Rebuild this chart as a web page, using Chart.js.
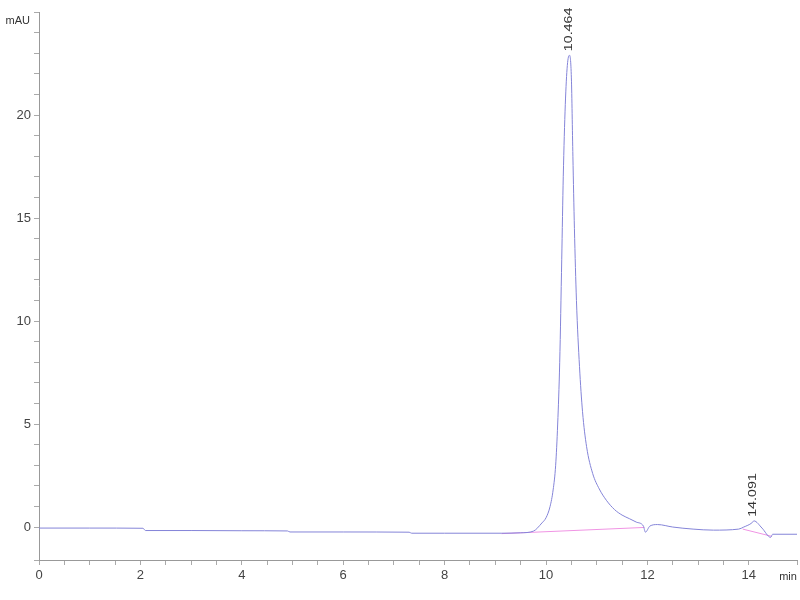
<!DOCTYPE html>
<html>
<head>
<meta charset="utf-8">
<title>Cromatograma</title>
<script src="https://cdn.jsdelivr.net/npm/chart.js@4.4.1/dist/chart.umd.min.js"></script>
<style>
    body { margin: 0; background: #fff; }
    #grafico_box { width: 800px; height: 600px; }
</style>
</head>
<body>
<div id="grafico_box"><canvas id="grafico_cromatograma"></canvas></div>
<script>
// tempo (min) e sinal (mAU)
var tempo = [0, 1, 2.05, 2.1, 3, 4, 4.9, 4.95, 6, 7.3, 7.35, 8, 9.12, 9.5, 9.75,
    9.92, 10.0, 10.08, 10.14, 10.19, 10.23, 10.27, 10.31, 10.34, 10.38, 10.42, 10.464, 10.5, 10.53,
    10.56, 10.6, 10.66, 10.72, 10.8, 10.92, 11.05, 11.19, 11.35, 11.5, 11.65, 11.78,
    11.92, 11.96, 12.05, 12.2, 12.5, 12.9, 13.3, 13.8, 13.9, 14.06, 14.1, 14.26,
    14.43, 14.47, 14.95];
var sinal = [-0.05, -0.05, -0.06, -0.17, -0.17, -0.18, -0.19, -0.24, -0.24, -0.25, -0.3, -0.3, -0.3, -0.28, -0.2,
    0.2, 0.45, 1.0, 1.8, 3.0, 5.0, 8, 13, 17, 20.5, 22.4, 22.9, 21.8, 18,
    14.5, 11, 7.8, 5.6, 3.9, 2.6, 1.85, 1.3, 0.85, 0.58, 0.4, 0.24,
    0.05, -0.25, 0.05, 0.12, 0, -0.1, -0.15, -0.1, 0, 0.2, 0.3, -0.05,
    -0.5, -0.35, -0.35];

// linhas de base dos picos
var base1_tempo = [9.12, 11.94];
var base1_sinal = [-0.32, -0.02];
var base2_tempo = [13.88, 14.45];
var base2_sinal = [-0.1, -0.45];

// picos marcados
var picos_tempo = [10.464, 14.091];
var picos_sinal = [22.9, 0.3];
var picos_label = ['10.464', '14.091'];

var x_min = 0, x_max = 14.95;
var y_min = -1.6, y_max = 25;

function montaPontos(xs, ys) {
    var pontos = [];
    for (var i = 0; i < xs.length; i++) {
        pontos.push({x: xs[i], y: ys[i]});
    }
    return pontos;
}

// escreve os tempos dos picos e as unidades dos eixos
var pluginTextos = {
    id: 'textos',
    afterDatasetsDraw: function (chart) {
        var ctx = chart.ctx;
        var sx = chart.scales.x;
        var sy = chart.scales.y;
        var area = chart.chartArea;
        ctx.save();
        ctx.fillStyle = '#333';
        ctx.font = '11px "Liberation Sans", Arial, sans-serif';
        for (var i = 0; i < picos_tempo.length; i++) {
            var px = sx.getPixelForValue(picos_tempo[i]);
            var py = sy.getPixelForValue(picos_sinal[i]);
            ctx.save();
            ctx.translate(px, py - 4);
            ctx.rotate(-Math.PI / 2);
            ctx.scale(1.3, 0.95); // texto esticado como no original
            ctx.textAlign = 'left';
            ctx.textBaseline = 'middle';
            ctx.fillText(picos_label[i], 0, 0);
            ctx.restore();
        }
        ctx.font = '11px "Liberation Sans Narrow", "Liberation Sans", sans-serif';
        ctx.textBaseline = 'middle';
        ctx.textAlign = 'right';
        ctx.fillText('mAU', area.left - 9, area.top + 9);
        ctx.textAlign = 'center';
        ctx.fillText('min', area.right - 9, area.bottom + 17);
        ctx.restore();
    }
};

var ctx = document.getElementById('grafico_cromatograma');
var myChart = new Chart(ctx, {
    type: 'scatter',
    data: {
        datasets: [{
                data: montaPontos(tempo, sinal),
                showLine: true,
                borderColor: '#8484d8',
                borderWidth: 1,
                pointRadius: 0,
                cubicInterpolationMode: 'monotone'
            }, {
                data: montaPontos(base1_tempo, base1_sinal),
                showLine: true,
                borderColor: '#f094e4',
                borderWidth: 1,
                pointRadius: 0
            }, {
                data: montaPontos(base2_tempo, base2_sinal),
                showLine: true,
                borderColor: '#f094e4',
                borderWidth: 1,
                pointRadius: 0
            }]
    },
    options: {
        responsive: true,
        maintainAspectRatio: false,
        animation: false,
        layout: {padding: {top: 12, right: 2, left: 0, bottom: 0}},
        plugins: {
            legend: {display: false},
            tooltip: {enabled: false}
        },
        scales: {
            x: {
                type: 'linear',
                min: x_min,
                max: x_max,
                afterFit: function (scale) { scale.height = 40; },
                border: {display: true, color: '#999', width: 1},
                grid: {drawOnChartArea: false, drawTicks: true, tickLength: 5, color: '#aaa'},
                ticks: {
                    stepSize: 0.5,
                    autoSkip: false,
                    maxRotation: 0,
                    padding: 3,
                    color: '#444',
                    font: {family: '"Liberation Sans Narrow", "Liberation Sans", sans-serif', size: 13},
                    callback: function (v) {
                        return (Math.abs(v % 2) < 1e-9) ? v : '';
                    }
                }
            },
            y: {
                min: y_min,
                max: y_max,
                afterFit: function (scale) { scale.width = 39; },
                border: {display: true, color: '#999', width: 1},
                grid: {drawOnChartArea: false, drawTicks: true, tickLength: 5, color: '#aaa'},
                ticks: {
                    stepSize: 1,
                    autoSkip: false,
                    padding: 3,
                    color: '#444',
                    font: {family: '"Liberation Sans Narrow", "Liberation Sans", sans-serif', size: 13},
                    callback: function (v) {
                        return (Number.isInteger(v) && v % 5 === 0 && v <= 20) ? v : '';
                    }
                }
            }
        }
    },
    plugins: [pluginTextos]
});
</script>
</body>
</html>
